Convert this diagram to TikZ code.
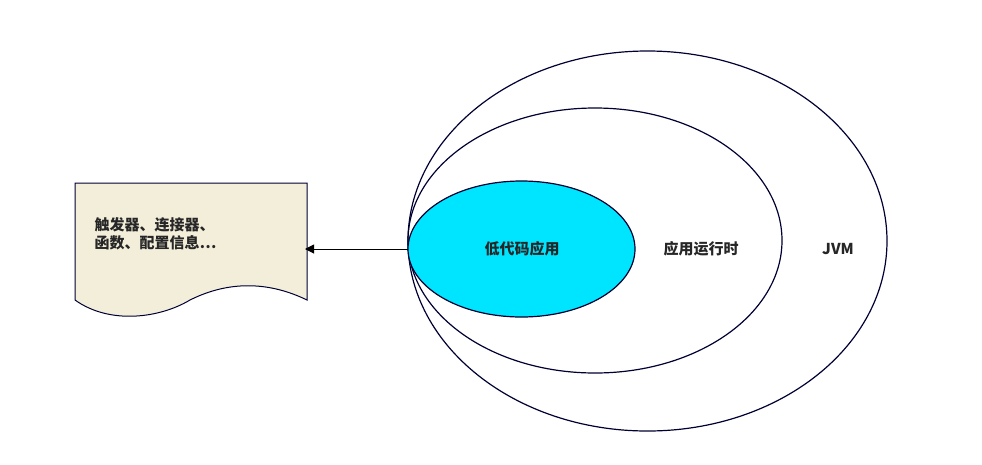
\documentclass[tikz,border=0pt]{standalone}
\usepackage{fontspec}
\setmainfont{Noto Sans CJK SC}
\usetikzlibrary{arrows.meta}
\begin{document}
\begin{tikzpicture}[x=1pt,y=-1pt,
  ring/.style={draw=black!80!blue,line width=1.2pt},
  lbl/.style={font=\fontsize{15}{18}\selectfont\bfseries,text=black!85}]
\useasboundingbox (0,0) rectangle (982,464);
\draw[ring] (647.5,241) ellipse [x radius=239.5,y radius=190];
\draw[ring] (595,240.5) ellipse [x radius=187,y radius=132.5];
\draw[ring,fill=cyan!90!blue!70!white,fill={rgb,255:red,0;green,229;blue,255}] (521.5,249) ellipse [x radius=113.5,y radius=68];
\node[lbl] (app) at (522,249) {低代码应用};
\node[lbl] (rt) at (701,249) {应用运行时};
\node[lbl] (jvm) at (838,249) {JVM};
\coordinate (src) at (408,249);
\coordinate (dst) at (305,249);
\draw[draw=black!80!blue,line width=1pt,fill={rgb,255:red,242;green,238;blue,218}]
  (75,183) -- (307,183) -- (307,300)
  .. controls (270,282) and (230,280) .. (190,300)
  .. controls (160,318) and (110,325) .. (75,300) -- cycle;
\node[lbl,align=left,anchor=west] (doc) at (91,234) {触发器、连接器、\\函数、配置信息…};
\draw[line width=1pt,-{Triangle[length=9pt,width=9pt]}] (src) -- (dst);
\end{tikzpicture}
\end{document}
